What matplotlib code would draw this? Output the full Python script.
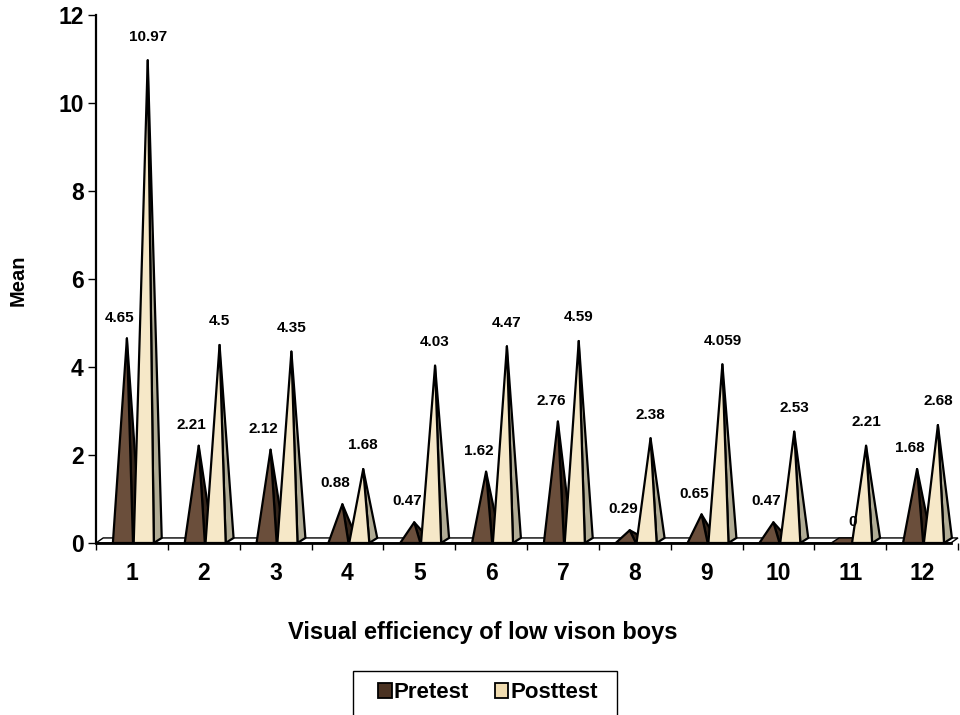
import matplotlib
matplotlib.use("Agg")
import matplotlib.pyplot as plt
from matplotlib.patches import Polygon, Patch, Rectangle

categories = ["1", "2", "3", "4", "5", "6", "7", "8", "9", "10", "11", "12"]
pretest = [4.65, 2.21, 2.12, 0.88, 0.47, 1.62, 2.76, 0.29, 0.65, 0.47, 0, 1.68]
posttest = [10.97, 4.5, 4.35, 1.68, 4.03, 4.47, 4.59, 2.38, 4.059, 2.53, 2.21, 2.68]
pre_labels = ["4.65", "2.21", "2.12", "0.88", "0.47", "1.62", "2.76", "0.29", "0.65", "0.47", "0", "1.68"]
post_labels = ["10.97", "4.5", "4.35", "1.68", "4.03", "4.47", "4.59", "2.38", "4.059", "2.53", "2.21", "2.68"]

plt.rcParams['font.family'] = ['Liberation Sans', 'DejaVu Sans']
plt.rcParams['font.weight'] = 'bold'

fig = plt.figure(figsize=(9.6, 7.15), dpi=100)
ax = fig.add_axes([96/960, 1-543/715, (958-96)/960, (543-15)/715])
ax.set_xlim(0, 12)
ax.set_ylim(0, 12)

W = 0.28      # front face width (category units)
DX = 0.11     # depth offset x
DY = 0.115    # depth offset y (value units)

pre_front, pre_side = '#6a4e3b', '#35261b'
post_front, post_side = '#f6e8c8', '#b1ac95'

# floor
floor = Polygon([(0, 0), (11.9, 0), (12.0, DY), (0.1, DY)], closed=True,
                facecolor='white', edgecolor='black', lw=1.0, clip_on=False, zorder=1)
ax.add_patch(floor)

def pyramid(xl, v, front, side):
    xr = xl + W
    apx = xl + W / 2 + DX / 2
    if v <= 0:
        ax.add_patch(Polygon([(xl, 0), (xr, 0), (xr + DX, DY), (xl + DX, DY)], closed=True,
                             facecolor=front, edgecolor='black', lw=1.0, clip_on=False, zorder=3))
        return apx
    ax.add_patch(Polygon([(xr, 0), (xr + DX, DY), (apx, v)], closed=True,
                         facecolor=side, edgecolor='black', lw=1.6, joinstyle='round',
                         clip_on=False, zorder=3))
    ax.add_patch(Polygon([(xl, 0), (xr, 0), (apx, v)], closed=True,
                         facecolor=front, edgecolor='black', lw=1.6, joinstyle='round',
                         clip_on=False, zorder=3))
    return apx

for i in range(len(categories)):
    c = i + 0.5
    ax_pre = pyramid(c - 0.265, pretest[i], pre_front, pre_side)
    ax_post = pyramid(c + 0.025, posttest[i], post_front, post_side)
    dx_pre = -5 if pretest[i] > 0 else 5
    ax.annotate(pre_labels[i], (ax_pre, pretest[i]), xytext=(dx_pre, 15), textcoords='offset points',
                ha='center', va='center', fontsize=11, fontweight='bold', zorder=5)
    ax.annotate(post_labels[i], (ax_post, posttest[i]), xytext=(0, 17), textcoords='offset points',
                ha='center', va='center', fontsize=11, fontweight='bold', zorder=5)

# axes styling
for s in ['top', 'right']:
    ax.spines[s].set_visible(False)
ax.spines['left'].set_linewidth(1.6)
ax.spines['bottom'].set_linewidth(2.0)
ax.spines['bottom'].set_bounds(0, 11.9)
ax.spines['left'].set_zorder(4)

ax.set_yticks(range(0, 13, 2))
ax.tick_params(axis='y', length=6, width=1, pad=3, labelsize=16.5)
ax.set_xticks([i + 0.5 for i in range(12)])
ax.set_xticklabels(categories)
ax.set_xticks(range(0, 13), minor=True)
ax.tick_params(axis='x', which='major', length=0, pad=14, labelsize=16.5)
ax.tick_params(axis='x', which='minor', length=5, width=1)
for lab in ax.get_xticklabels() + ax.get_yticklabels():
    lab.set_fontweight('bold')

fig.text(18/960, 1-280/715, 'Mean', rotation=90, ha='center', va='center',
         fontsize=14.5, fontweight='bold')
fig.text(483/960, 1-633/715, 'Visual efficiency of low vison boys', ha='center', va='center',
         fontsize=17, fontweight='bold')

handles = [Patch(facecolor='#4a3222', edgecolor='black', lw=1.3, label='Pretest'),
           Patch(facecolor='#f0dcb0', edgecolor='black', lw=1.3, label='Posttest')]
leg = fig.legend(handles=handles, loc='center', bbox_to_anchor=(488/960, 1-693/715),
                 ncol=2, frameon=False, handlelength=0.62, handleheight=0.62,
                 handletextpad=0.1, columnspacing=1.15, borderpad=0.0,
                 prop={'weight': 'bold', 'size': 16})
fig.add_artist(Rectangle((353/960, -0.02), (617-353)/960, 0.02 + (715-671)/715,
                         transform=fig.transFigure, facecolor='none', edgecolor='black',
                         lw=1.0, clip_on=False))

fig.savefig('out.png', dpi=100)
